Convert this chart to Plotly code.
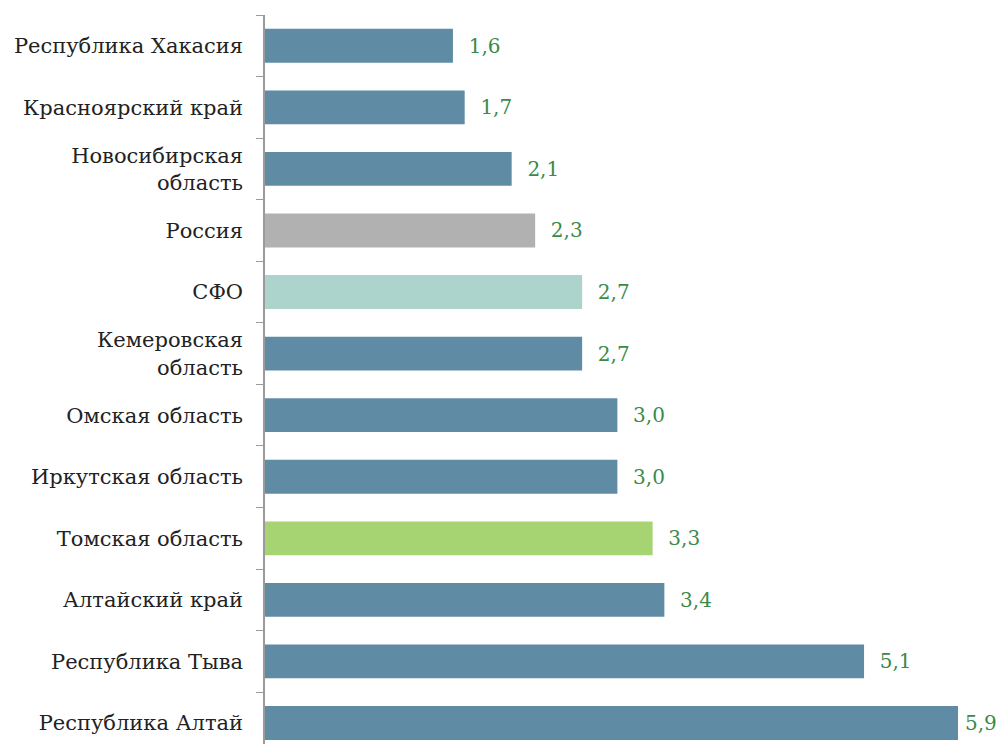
import plotly.graph_objects as go

# top-to-bottom as in the reference
categories = ["Республика Хакасия", "Красноярский край", "Новосибирская<br>область", "Россия", "СФО",
              "Кемеровская<br>область", "Омская область", "Иркутская область", "Томская область",
              "Алтайский край", "Республика Тыва", "Республика Алтай"]
values = [1.6, 1.7, 2.1, 2.3, 2.7, 2.7, 3.0, 3.0, 3.3, 3.4, 5.1, 5.9]
bar_colors = ["#5f8ca4", "#5f8ca4", "#5f8ca4", "#b1b1b1", "#acd4cc", "#5f8ca4", "#5f8ca4",
              "#5f8ca4", "#a6d473", "#5f8ca4", "#5f8ca4", "#5f8ca4"]

cats = categories[::-1]
vals = values[::-1]
cols = bar_colors[::-1]
# label gap: the longest bar's label gets a slightly smaller gap so it stays inside the page
templates = ["\u2009%{x:.1f}" if v == max(vals) else "\u00a0\u00a0%{x:.1f}" for v in vals]

fig = go.Figure(go.Bar(
    x=vals, y=cats, orientation="h",
    marker=dict(color=cols, line=dict(width=0)),
    texttemplate=templates, textposition="outside",
    textfont=dict(family="DejaVu Serif", size=20, color="#3a8a4a"),
    cliponaxis=False,
))
fig.update_layout(
    width=999, height=736,
    margin=dict(l=257, r=0, t=7, b=0),
    paper_bgcolor="white", plot_bgcolor="white",
    bargap=0.45, separators=", ",
    showlegend=False,
    font=dict(family="DejaVu Serif", size=21, color="#222222"),
)
fig.update_xaxes(range=[0, 6.317], visible=False)
fig.update_yaxes(
    type="category", categoryorder="array", categoryarray=cats,
    range=[-0.341, 11.5], tickson="boundaries", ticks="outside", ticklen=7,
    tickcolor="#9a9a9a", showline=True, linecolor="#9a9a9a", linewidth=1.5,
    showgrid=False, ticklabelstandoff=16, automargin=False,
)
fig.write_html("out.html")
